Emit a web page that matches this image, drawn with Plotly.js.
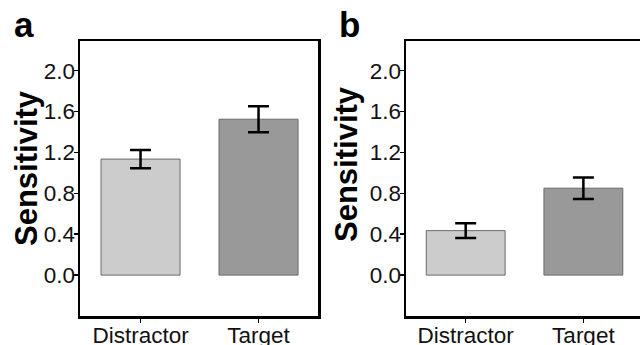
<!DOCTYPE html>
<html>
<head>
<meta charset="utf-8">
<script src="https://cdn.plot.ly/plotly-3.0.1.min.js"></script>
<style>html,body{margin:0;padding:0;background:#fff;}#chart{width:640px;height:345px;}</style>
</head>
<body>
<div id="chart"></div>
<script>
var categories = ["Distractor", "Target"];
var panelA = [1.135, 1.525];
var panelAErr = [0.09, 0.127];
var panelB = [0.435, 0.85];
var panelBErr = [0.073, 0.105];
var yTickVals = [0.0, 0.4, 0.8, 1.2, 1.6, 2.0];
var yTickText = ["0.0", "0.4", "0.8", "1.2", "1.6", "2.0"];
var barColors = ["#cccccc", "#999999"];
var panelLabels = ["a", "b"];
var yTitle = "Sensitivity";

function barTrace(vals, errs, xa, ya) {
  return {
    type: "bar", x: categories, y: vals, xaxis: xa, yaxis: ya,
    width: 0.67,
    marker: {color: barColors, line: {color: "#6a6a6a", width: 1}},
    error_y: {type: "data", array: errs, visible: true, color: "#000", thickness: 2.5, width: 10.5},
    hoverinfo: "none", showlegend: false
  };
}

var axisCommon = {
  showline: true, linecolor: "#000", linewidth: 2.5,
  showgrid: false, zeroline: false, ticks: "outside", ticklen: 4, tickwidth: 1.5, tickcolor: "#000",
  tickfont: {family: "Liberation Sans, Arial, sans-serif", size: 22.5, color: "#111"}
};

function yax(anchor) {
  return Object.assign({}, axisCommon, {
    anchor: anchor, range: [-0.4, 2.29], tickvals: yTickVals, ticktext: yTickText, domain: [0, 1],
    ticklabelstandoff: -6
  });
}

var layout = {
  width: 640, height: 345,
  margin: {l: 0, r: 0, t: 41, b: 29, pad: 0},
  paper_bgcolor: "#fff", plot_bgcolor: "#fff",
  xaxis: Object.assign({}, axisCommon, {domain: [80/640, 318/640], range: [-0.513, 1.504], anchor: "y", mirror: true, type: "category", ticklabelstandoff: -7}),
  yaxis: Object.assign(yax("x"), {mirror: true}),
  xaxis2: Object.assign({}, axisCommon, {domain: [406/640, 1], range: [-0.507, 1.481], anchor: "y2", mirror: true, type: "category", ticklabelstandoff: -7}),
  yaxis2: Object.assign(yax("x2"), {mirror: false}),
  annotations: [
    {text: "<b>" + panelLabels[0] + "</b>", xref: "paper", yref: "paper", x: 12/640, y: 1 - 5/275, xanchor: "left", yanchor: "bottom", showarrow: false,
     font: {family: "Liberation Sans, Arial, sans-serif", size: 35, color: "#000"}},
    {text: "<b>" + panelLabels[1] + "</b>", xref: "paper", yref: "paper", x: 337/640, y: 1 - 5/275, xanchor: "left", yanchor: "bottom", showarrow: false,
     font: {family: "Liberation Sans, Arial, sans-serif", size: 35, color: "#000"}},
    {text: "<b>" + yTitle + "</b>", xref: "paper", yref: "paper", x: 26/640, y: (316-168)/275, xanchor: "center", yanchor: "middle", textangle: -90, showarrow: false,
     font: {family: "Liberation Sans, Arial, sans-serif", size: 31, color: "#000"}},
    {text: "<b>" + yTitle + "</b>", xref: "paper", yref: "paper", x: 346/640, y: (316-164)/275, xanchor: "center", yanchor: "middle", textangle: -90, showarrow: false,
     font: {family: "Liberation Sans, Arial, sans-serif", size: 31, color: "#000"}}
  ]
};

Plotly.newPlot("chart", [barTrace(panelA, panelAErr, "x", "y"), barTrace(panelB, panelBErr, "x2", "y2")], layout, {staticPlot: true, displayModeBar: false});
</script>
</body>
</html>
